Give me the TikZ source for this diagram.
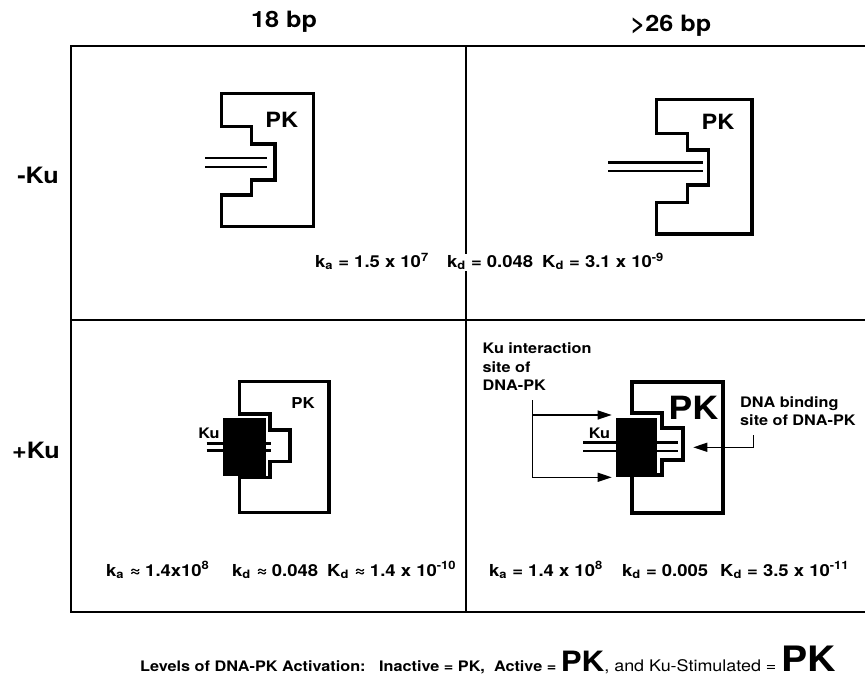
\documentclass[tikz,border=0pt]{standalone}
\usepackage{fontspec}
\setmainfont[FakeStretch=1.12]{TeX Gyre Heros}
\usetikzlibrary{arrows.meta}
\newcommand{\kk}[2]{#1\textsubscript{#2}}
\newcommand{\pw}[1]{\textsuperscript{#1}}
\begin{document}
\begin{tikzpicture}[x=1pt,y=-1pt,
  gridline/.style={line width=2.7pt, line cap=rect},
  pkbox/.style={line width=3.4pt, line join=miter},
  pkboxthick/.style={line width=4.2pt, line join=miter},
  dna/.style={line width=2.4pt},
  kubox/.style={fill=black, draw=black, line width=0.5pt},
  conn/.style={line width=1.3pt},
  tipped/.style={conn, -{Triangle[length=14pt,width=9pt]}},
  txt/.style={font=\bfseries\fontsize{#1}{#1}\selectfont, inner sep=0pt},
  lbl/.style={font=\bfseries\fontsize{14.5}{18.5}\selectfont, inner sep=0pt, align=left}
]
\useasboundingbox (0,0) rectangle (865,698);

% grid
\draw[gridline] (865,46) -- (71,46) -- (71,612) -- (865,612);
\draw[gridline] (466,46) -- (466,612);
\draw[gridline] (71,320) -- (865,320);

% headers
\node[txt=22.5, anchor=base] (h1) at (284,28) {18 bp};
\node[txt=22.5, anchor=base] (h2) at (671,32) {>26 bp};
\node[txt=22.5, anchor=base] (r1) at (38,183) {-Ku};
\node[txt=22.5, anchor=base] (r2) at (36,458) {+Ku};

% top-left
\draw[dna] (205,158.3) -- (267.3,158.3);
\draw[dna] (205,167.3) -- (267.3,167.3);
\draw[pkbox] (221.7,93.3) -- (313.3,93.3) -- (313.3,226.7) -- (221.7,226.7) -- (221.7,195) -- (251.7,195) -- (251.7,180) -- (275,180) -- (275,144) -- (251.7,144) -- (251.7,126.7) -- (221.7,126.7) -- cycle;
\node[txt=21] (pk1) at (281.7,120) {PK};

% top-right
\draw[dna] (608.3,162.7) -- (703.3,162.7);
\draw[dna] (608.3,171) -- (703.3,171);
\draw[pkbox] (656.7,99.3) -- (752,99.3) -- (752,234) -- (656.7,234) -- (656.7,202.7) -- (687.3,202.7) -- (687.3,185) -- (708.3,185) -- (708.3,150) -- (687.3,150) -- (687.3,133.3) -- (656.7,133.3) -- cycle;
\node[txt=21] (pk2) at (718,121.7) {PK};

% top constants
\node[txt=16.5, anchor=base west] (ka1) at (315,267.3) {\kk{k}{a} = 1.5 x 10\pw{7}};
\node[txt=16.5, anchor=base west, fill=white, inner sep=1.5pt] (kd1) at (445.5,267.3) {\kk{k}{d} = 0.048};
\node[txt=16.5, anchor=base west] (Kd1) at (542,267.3) {\kk{K}{d} = 3.1 x 10\pw{-9}};

% bottom-left
\draw[pkbox] (239.3,381.7) -- (329,381.7) -- (329,512.7) -- (239.3,512.7) -- (239.3,477.3) -- (270,477.3) -- (270,461.7) -- (290,461.7) -- (290,430) -- (270,430) -- (270,414) -- (239.3,414) -- cycle;
\draw[dna] (206.7,443.3) -- (270.5,443.3);
\draw[dna] (206.7,450.5) -- (270.5,450.5);
\draw[kubox] (223.3,418.3) rectangle (265,475);
\node[txt=14.5, anchor=base] (ku1) at (209,438) {Ku};
\node[txt=15] (pk3) at (303,403.3) {PK};

% bottom-right
\draw[pkboxthick] (631.7,381.7) -- (723.3,381.7) -- (723.3,513.3) -- (631.7,513.3) -- (631.7,475) -- (661.7,475) -- (661.7,460) -- (683.3,460) -- (683.3,428.3) -- (661.7,428.3) -- (661.7,413.3) -- (631.7,413.3) -- cycle;
\draw[dna] (583.3,442.3) -- (678.3,442.3);
\draw[dna] (583.3,450.7) -- (678.3,450.7);
\draw[kubox] (616,418.3) rectangle (656.7,476);
\node[txt=14.5, anchor=base] (ku2) at (599.5,438.5) {Ku};
\node[txt=32] (pk4) at (693.3,408.3) {PK};

% labels and arrows
\node[lbl, anchor=west] (lab1) at (482.5,367) {Ku interaction\\site of\\DNA-PK};
\node[lbl, anchor=west] (lab2) at (740,411) {DNA binding\\site of DNA-PK};
\coordinate (aTop) at (532.7,400);
\coordinate (aMid) at (532.7,415);
\coordinate (aBot) at (532.7,477.3);
\coordinate (tip1) at (611.7,415);
\coordinate (tip2) at (611.7,477.3);
\draw[tipped] (aTop) -- (aBot) -- (tip2);
\draw[tipped] (aMid) -- (tip1);
\coordinate (bTop) at (753.3,435);
\coordinate (bCorner) at (753.3,447.3);
\coordinate (tip3) at (693.3,447.3);
\draw[tipped] (bTop) -- (bCorner) -- (tip3);

% bottom constants
\node[txt=16.5, anchor=base west] (ka2) at (106,576) {\kk{k}{a} ≈ 1.4x10\pw{8}};
\node[txt=16.5, anchor=base west] (kd2) at (232,576) {\kk{k}{d} ≈ 0.048};
\node[txt=16.5, anchor=base west] (Kd2) at (327,576) {\kk{K}{d} ≈ 1.4 x 10\pw{-10}};
\node[txt=16.5, anchor=base west] (ka3) at (489,576) {\kk{k}{a} = 1.4 x 10\pw{8}};
\node[txt=16.5, anchor=base west] (kd3) at (622,576) {\kk{k}{d} = 0.005};
\node[txt=16.5, anchor=base west] (Kd3) at (720,576) {\kk{K}{d} = 3.5 x 10\pw{-11}};

% legend
\node[txt=14.5, anchor=base west] (legend) at (140,671) {Levels of DNA-PK Activation:\ \ \ Inactive = PK,\ \ Active = {\fontsize{28}{28}\selectfont PK}{\mdseries\fontsize{16}{16}\selectfont, and Ku-Stimulated = }{\fontsize{35}{35}\selectfont PK}};
\end{tikzpicture}
\end{document}
